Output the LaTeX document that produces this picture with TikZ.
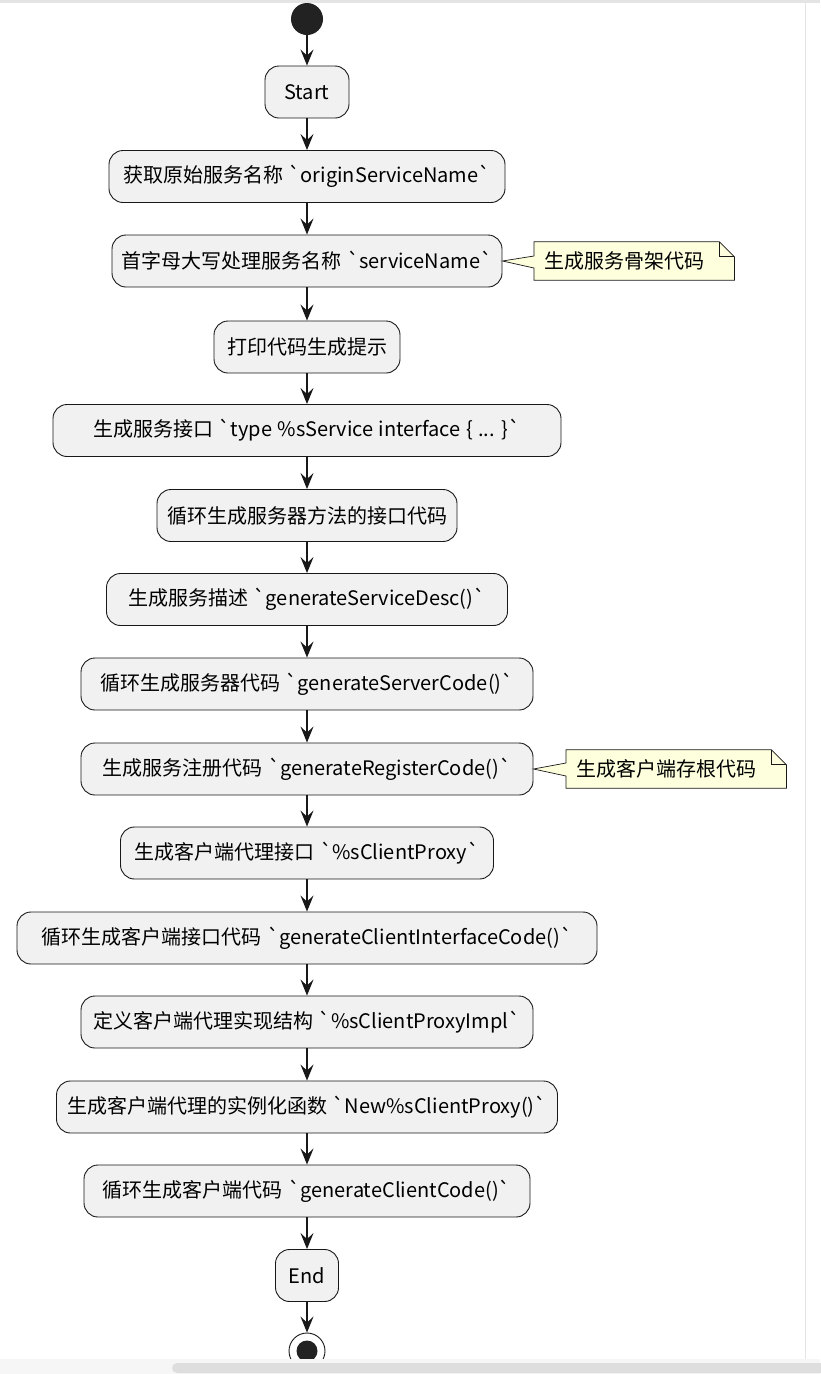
\documentclass[tikz,border=0pt]{standalone}
\usepackage{fontspec}
\usepackage{xcolor}
\usepackage{tikz}
\usetikzlibrary{arrows.meta}
\newfontfamily\cjkfont{Noto Sans CJK SC}[WordSpace=1.2]

\begin{document}
\begin{tikzpicture}[x=1pt, y=-1pt,
  act/.style={draw=colLine, fill=colAct, line width=0.9pt, rounded corners=14pt,
    minimum height=52pt, inner sep=0pt, text=black,
    font=\cjkfont\fontsize{20}{23}\selectfont},
  flow/.style={draw=colLine, line width=1.5pt,
    -{Stealth[length=16pt, width=13pt, inset=6pt]}},
  notetext/.style={inner xsep=10pt, inner ysep=0pt, minimum height=38pt,
    align=left, text=black, font=\cjkfont\fontsize{20}{23}\selectfont},
  noteshape/.style={draw=colLine, fill=colNote, line width=0.7pt, line join=miter}]

% Colori
\definecolor{colLine}{HTML}{181818}
\definecolor{colAct}{HTML}{F1F1F1}
\definecolor{colNote}{HTML}{FEFFDD}
\definecolor{colDot}{HTML}{222222}
\definecolor{colBar}{HTML}{F6F6F6}
\definecolor{colThumb}{HTML}{DEDEDE}
\definecolor{colEdge}{HTML}{E4E4E4}

% Asse centrale e piega delle note
\def\cx{307}
\def\fold{15}

\useasboundingbox (0,0) rectangle (820,1374);

% Inizio
\node[circle, fill=colDot, minimum size=32pt, inner sep=0pt] (init) at (\cx,19) {};

% Attivita
\node[act, minimum width=84pt]  (start)     at (\cx,92)    {Start};
\node[act, minimum width=396pt] (origName)  at (\cx,176.5) {获取原始服务名称 `originServiceName`};
\node[act, minimum width=390pt] (svcName)   at (\cx,261)   {首字母大写处理服务名称 `serviceName`};
\node[act, minimum width=186pt] (hint)      at (\cx,347)   {打印代码生成提示};
\node[act, minimum width=508pt] (svcIface)  at (\cx,430.5) {生成服务接口 `type \%sService interface \{ ... \}`};
\node[act, minimum width=300pt] (methods)   at (\cx,515.5) {循环生成服务器方法的接口代码};
\node[act, minimum width=401pt] (svcDesc)   at (\cx,599.5) {生成服务描述 `generateServiceDesc()`};
\node[act, minimum width=452pt] (srvCode)   at (\cx,684)   {循环生成服务器代码 `generateServerCode()`};
\node[act, minimum width=452pt] (regCode)   at (\cx,769)   {生成服务注册代码 `generateRegisterCode()`};
\node[act, minimum width=373pt] (cliProxy)  at (\cx,853)   {生成客户端代理接口 `\%sClientProxy`};
\node[act, minimum width=580pt] (cliIface)  at (\cx,938)   {循环生成客户端接口代码 `generateClientInterfaceCode()`};
\node[act, minimum width=452pt] (proxyImpl) at (\cx,1022)  {定义客户端代理实现结构 `\%sClientProxyImpl`};
\node[act, minimum width=501pt] (newProxy)  at (\cx,1107)  {生成客户端代理的实例化函数 `New\%sClientProxy()`};
\node[act, minimum width=446pt] (cliCode)   at (\cx,1191)  {循环生成客户端代码 `generateClientCode()`};
\node[act, minimum width=63pt]  (finish)    at (\cx,1275.5){End};

% Fine
\node[circle, draw=colLine, fill=white, line width=0.9pt, minimum size=36pt, inner sep=0pt] (stop) at (\cx,1351) {};
\fill[colDot] (stop.center) circle (10.5);

% Frecce
\draw[flow] (init) -- (start);
\draw[flow] (start) -- (origName);
\draw[flow] (origName) -- (svcName);
\draw[flow] (svcName) -- (hint);
\draw[flow] (hint) -- (svcIface);
\draw[flow] (svcIface) -- (methods);
\draw[flow] (methods) -- (svcDesc);
\draw[flow] (svcDesc) -- (srvCode);
\draw[flow] (srvCode) -- (regCode);
\draw[flow] (regCode) -- (cliProxy);
\draw[flow] (cliProxy) -- (cliIface);
\draw[flow] (cliIface) -- (proxyImpl);
\draw[flow] (proxyImpl) -- (newProxy);
\draw[flow] (newProxy) -- (cliCode);
\draw[flow] (cliCode) -- (finish);
\draw[flow] (finish) -- (stop);

% Nota: scheletro del servizio
\node[notetext, text width=180pt, anchor=west] (noteSkel) at (534,261) {生成服务骨架代码};
\draw[noteshape] (noteSkel.north west) -- ([xshift=-\fold pt]noteSkel.north east)
  -- ([yshift=-\fold pt]noteSkel.north east) -- (noteSkel.south east)
  -- (noteSkel.south west) -- ([yshift=-7pt]noteSkel.west) -- (svcName.east)
  -- ([yshift=5pt]noteSkel.west) -- cycle;
\draw[noteshape, fill=none] ([xshift=-\fold pt]noteSkel.north east)
  |- ([yshift=-\fold pt]noteSkel.north east);
\node[notetext, text width=180pt, anchor=west] at (noteSkel.west) {生成服务骨架代码};

% Nota: stub del client
\node[notetext, text width=200pt, anchor=west] (noteStub) at (566,769) {生成客户端存根代码};
\draw[noteshape] (noteStub.north west) -- ([xshift=-\fold pt]noteStub.north east)
  -- ([yshift=-\fold pt]noteStub.north east) -- (noteStub.south east)
  -- (noteStub.south west) -- ([yshift=-7pt]noteStub.west) -- (regCode.east)
  -- ([yshift=6pt]noteStub.west) -- cycle;
\draw[noteshape, fill=none] ([xshift=-\fold pt]noteStub.north east)
  |- ([yshift=-\fold pt]noteStub.north east);
\node[notetext, text width=200pt, anchor=west] at (noteStub.west) {生成客户端存根代码};

% Cornice della finestra
\fill[colEdge] (0,0) rectangle (820,3);
\draw[colEdge, line width=0.8pt] (805,3) -- (805,1359);
\fill[colBar] (0,1359) rectangle (820,1374);
\fill[colThumb, rounded corners=5pt] (172,1363) rectangle (830,1373);

\end{tikzpicture}
\end{document}
